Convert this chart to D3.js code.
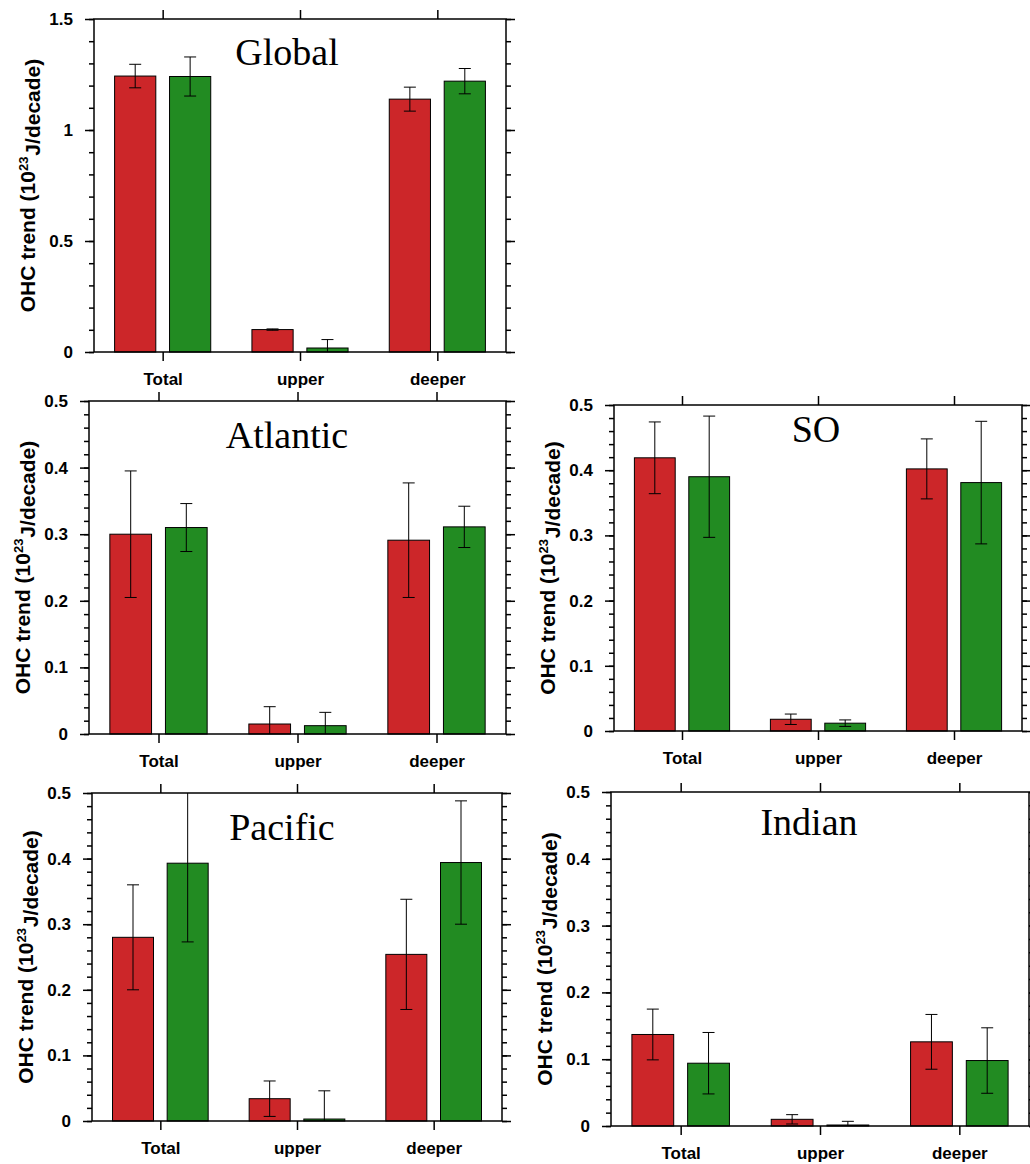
<!DOCTYPE html>
<html>
<head>
<meta charset="utf-8">
<script src="https://cdn.jsdelivr.net/npm/d3@7"></script>
<style>
body { margin: 0; background: #fff; }
text { font-family: "Liberation Sans", Arial, sans-serif; }
</style>
</head>
<body>
<script>
//Width and height
var width = 1030;
var height = 1164;

//Categories and the two series (red, green)
var categories = ["Total", "upper", "deeper"];
var series = ["red", "green"];

//OHC trend values [red series, green series], and error half-widths
var globalValues = [[1.243, 0.101, 1.139], [1.241, 0.018, 1.220]];
var globalErrors = [[0.053, 0.003, 0.054], [0.088, 0.038, 0.057]];

var atlanticValues = [[0.300, 0.015, 0.291], [0.310, 0.0125, 0.311]];
var atlanticErrors = [[0.095, 0.026, 0.086], [0.036, 0.020, 0.031]];

var soValues = [[0.419, 0.018, 0.402], [0.390, 0.012, 0.381]];
var soErrors = [[0.055, 0.008, 0.046], [0.093, 0.005, 0.094]];

var pacificValues = [[0.280, 0.034, 0.254], [0.393, 0.003, 0.394]];
var pacificErrors = [[0.080, 0.027, 0.084], [0.120, 0.043, 0.094]];

var indianValues = [[0.137, 0.010, 0.126], [0.094, 0.0015, 0.098]];
var indianErrors = [[0.038, 0.007, 0.041], [0.046, 0.0055, 0.049]];

//Axis maxima and major tick steps
var globalMax = 1.5, globalStep = 0.5;
var basinMax = 0.5, basinStep = 0.1;

//Panel layout (frame box and title position)
var panels = [
    {title: "Global",   values: globalValues,   errors: globalErrors,   max: globalMax, step: globalStep, x: 94,  y: 19,  w: 412, h: 333, tx: 287, ty: 65},
    {title: "Atlantic", values: atlanticValues, errors: atlanticErrors, max: basinMax,  step: basinStep,  x: 89,  y: 401, w: 417, h: 333, tx: 287, ty: 448},
    {title: "SO",       values: soValues,       errors: soErrors,       max: basinMax,  step: basinStep,  x: 614, y: 405, w: 408, h: 326, tx: 816, ty: 442},
    {title: "Pacific",  values: pacificValues,  errors: pacificErrors,  max: basinMax,  step: basinStep,  x: 92,  y: 793, w: 410, h: 328, tx: 282, ty: 840},
    {title: "Indian",   values: indianValues,   errors: indianErrors,   max: basinMax,  step: basinStep,  x: 611, y: 792, w: 418, h: 334, tx: 809, ty: 835}
];

var color = d3.scaleOrdinal()
                .domain(series)
                .range(["rgb(204,38,41)", "rgb(34,139,34)"]);

//Create SVG element
var svg = d3.select("body")
            .append("svg")
            .attr("width", width)
            .attr("height", height);

panels.forEach(function(p, i) {

    var g = svg.append("g")
               .attr("transform", "translate(" + p.x + "," + p.y + ")");

    // Scales
    var x0 = d3.scaleBand()
                .domain(categories)
                .range([0, p.w]);
    var bw = x0.bandwidth();
    var x1 = d3.scaleBand()
                .domain(series)
                .range([0.15 * bw, 0.85 * bw])
                .paddingInner(0.25);
    var y = d3.scaleLinear()
                .domain([0, p.max])
                .range([p.h, 0]);

    g.append("clipPath")
     .attr("id", "clip" + i)
     .append("rect")
     .attr("width", p.w)
     .attr("height", p.h);

    var rows = [];
    series.forEach(function(s, si) {
        categories.forEach(function(c, ci) {
            rows.push({cat: c, ser: s, v: p.values[si][ci], e: p.errors[si][ci]});
        });
    });

    // Bars
    g.selectAll("rect.bar")
     .data(rows)
     .enter()
     .append("rect")
     .attr("class", "bar")
     .attr("x", d => x0(d.cat) + x1(d.ser))
     .attr("y", d => y(d.v))
     .attr("width", x1.bandwidth())
     .attr("height", d => y(0) - y(d.v))
     .style("fill", d => color(d.ser))
     .style("stroke", "#000")
     .style("stroke-width", 1);

    // Error bars
    var eg = g.append("g").attr("clip-path", "url(#clip" + i + ")");
    var cap = 6;
    var errs = eg.selectAll("g.err")
                 .data(rows)
                 .enter()
                 .append("g")
                 .attr("class", "err")
                 .style("stroke", "#000")
                 .style("stroke-width", 1);
    errs.append("line")
        .attr("x1", d => x0(d.cat) + x1(d.ser) + x1.bandwidth() / 2)
        .attr("x2", d => x0(d.cat) + x1(d.ser) + x1.bandwidth() / 2)
        .attr("y1", d => y(d.v - d.e))
        .attr("y2", d => y(d.v + d.e));
    errs.append("line")
        .attr("x1", d => x0(d.cat) + x1(d.ser) + x1.bandwidth() / 2 - cap)
        .attr("x2", d => x0(d.cat) + x1(d.ser) + x1.bandwidth() / 2 + cap)
        .attr("y1", d => y(d.v + d.e))
        .attr("y2", d => y(d.v + d.e));
    errs.append("line")
        .attr("x1", d => x0(d.cat) + x1(d.ser) + x1.bandwidth() / 2 - cap)
        .attr("x2", d => x0(d.cat) + x1(d.ser) + x1.bandwidth() / 2 + cap)
        .attr("y1", d => y(d.v - d.e))
        .attr("y2", d => y(d.v - d.e));

    // Ticks
    var nMajor = Math.round(p.max / p.step);
    var major = d3.range(nMajor + 1).map(k => +(k * p.step).toFixed(3));
    var minor = d3.range(nMajor * 5 + 1).map(k => +(k * p.step / 5).toFixed(4));
    var fmt = d3.format("~g");

    g.append("g")
     .call(d3.axisLeft(y).tickValues(major).tickFormat(fmt).tickSize(9).tickPadding(12));
    g.append("g")
     .call(d3.axisLeft(y).tickValues(minor).tickFormat("").tickSize(5));
    g.append("g")
     .attr("transform", "translate(" + p.w + ",0)")
     .call(d3.axisRight(y).tickValues(major).tickFormat("").tickSize(9));
    g.append("g")
     .attr("transform", "translate(" + p.w + ",0)")
     .call(d3.axisRight(y).tickValues(minor).tickFormat("").tickSize(5));

    var xc = d3.scalePoint()
                .domain(categories)
                .range([bw / 2, p.w - bw / 2]);
    g.append("g")
     .attr("transform", "translate(0," + p.h + ")")
     .call(d3.axisBottom(xc).tickSize(9).tickPadding(12));
    g.append("g")
     .call(d3.axisTop(xc).tickSize(9).tickFormat(""));

    g.selectAll(".domain").remove();
    g.selectAll(".tick line").style("stroke", "#000").style("stroke-width", 1.5);
    g.selectAll(".tick text")
     .style("font-family", "'Liberation Sans', Arial, sans-serif")
     .style("font-weight", "bold")
     .style("font-size", "17px")
     .style("fill", "#000");

    // Frame
    g.append("rect")
     .attr("width", p.w)
     .attr("height", p.h)
     .style("fill", "none")
     .style("stroke", "#000")
     .style("stroke-width", 1.5);

    // Y axis title
    var yt = g.append("text")
              .attr("transform", "translate(-66," + (p.h / 2) + ") rotate(-90)")
              .attr("text-anchor", "middle")
              .attr("dy", "0.35em")
              .style("font-weight", "bold")
              .style("font-size", "21px");
    yt.append("tspan").text("OHC trend (10");
    yt.append("tspan").attr("dy", "-0.55em").style("font-size", "13px").text("23");
    yt.append("tspan").attr("dy", "0.55em").attr("dx", "1").text("J/decade)");

    // Panel title
    svg.append("text")
       .attr("x", p.tx)
       .attr("y", p.ty)
       .attr("text-anchor", "middle")
       .style("font-family", "'Liberation Serif', 'Times New Roman', serif")
       .style("font-size", "38px")
       .text(p.title);
});
</script>
</body>
</html>
